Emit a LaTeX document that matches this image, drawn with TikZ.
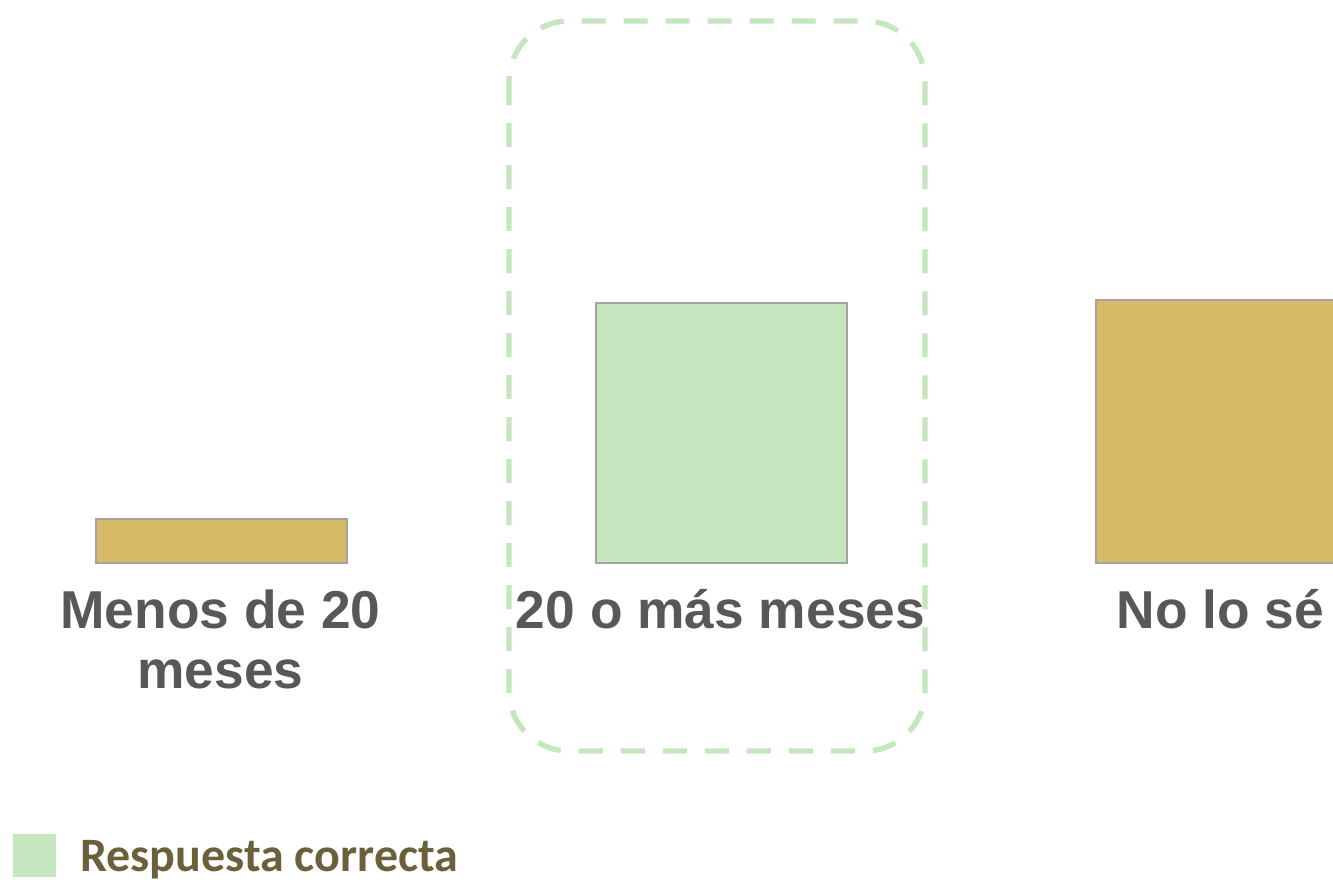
\documentclass[tikz,border=0pt]{standalone}
\usepackage{fontspec}
\setmainfont{Liberation Sans}
\newfontfamily\legendfont{Carlito}
\usetikzlibrary{positioning}
\definecolor{barGold}{HTML}{D7BB69}
\definecolor{barGreen}{HTML}{C5E6BE}
\definecolor{barEdge}{HTML}{A3A3A3}
\definecolor{labelGray}{HTML}{585858}
\definecolor{legendText}{HTML}{6A603C}

\begin{document}
\begin{tikzpicture}[x=0.75pt, y=-0.75pt]
  \tikzset{every bar/.style={draw=barEdge, line width=1.2pt, inner sep=0pt,
      minimum width=188.25pt, anchor=south west},
    bar label/.style={font=\fontsize{40}{45}\selectfont\bfseries, text=labelGray,
      align=center, inner sep=0pt, anchor=base}}
  \useasboundingbox (0,0) rectangle (1333,882);
  \clip (0,0) rectangle (1333,882);
  \node[every bar, fill=barGold, minimum height=33pt](bar-1) at (95,564) {};
  \node[every bar, fill=barGreen, minimum height=195pt](bar-2) at (595,564) {};
  \node[every bar, fill=barGold, minimum height=197.25pt](bar-3) at (1095,564) {};
  \node[bar label](label-1) at (220.5,688) {Menos de 20\\meses};
  \node[bar label](label-2) at (720.5,628) {20 o más meses};
  \node[bar label](label-3) at (1220.5,628) {No lo sé};
  \draw[barGreen, line width=4pt, dash pattern=on 18pt off 13.5pt,
    rounded corners=45pt] (509,21) rectangle (925,751);
  \node[fill=barGreen, minimum size=32.25pt, inner sep=0pt, anchor=north west](key-1) at (13,834) {};
  \node[font=\legendfont\fontsize{36}{40}\selectfont\bfseries, text=legendText,
    inner sep=0pt, anchor=base west](key-text) at (80,871) {Respuesta correcta};
\end{tikzpicture}
\end{document}
